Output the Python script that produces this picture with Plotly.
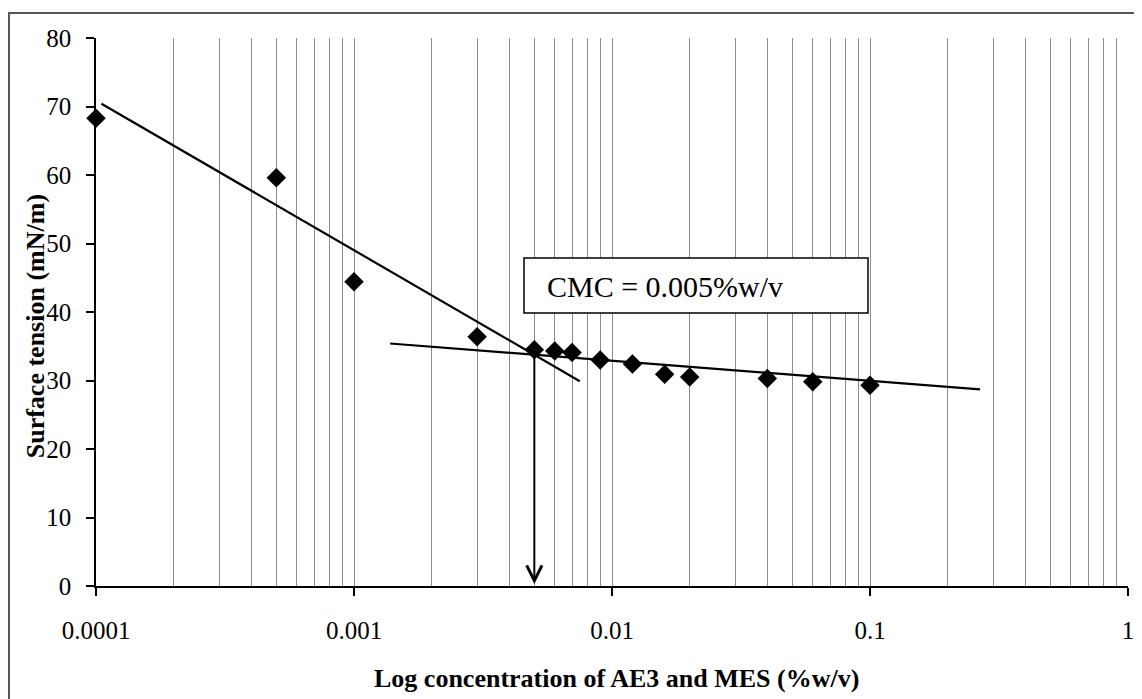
import math
import plotly.graph_objects as go

# ---- data ----
conc = [0.0001, 0.0005, 0.001, 0.003, 0.005, 0.006, 0.007, 0.009, 0.012, 0.016, 0.02, 0.04, 0.06, 0.1]
tension = [68.3, 59.6, 44.4, 36.4, 34.5, 34.3, 34.1, 33.0, 32.4, 30.9, 30.5, 30.3, 29.8, 29.3]

trend1_x = [0.000105, 0.0075]
trend1_y = [70.4, 29.9]
trend2_x = [0.00138, 0.267]
trend2_y = [35.4, 28.7]

cmc = 0.005
cmc_y_top = 33.9
cmc_label = "CMC = 0.005%w/v"

x_tickvals = [0.0001, 0.001, 0.01, 0.1, 1]
x_ticktext = ["0.0001", "0.001", "0.01", "0.1", "1"]
x_minorvals = [m * d for d in [0.0001, 0.001, 0.01, 0.1] for m in range(2, 10)]
y_tickvals = [0, 10, 20, 30, 40, 50, 60, 70, 80]

x_title = "Log concentration of AE3 and MES (%w/v)"
y_title = "Surface tension (mN/m)"

SERIF = "Liberation Serif, Times New Roman, serif"

fig = go.Figure()

fig.add_trace(go.Scatter(x=trend1_x, y=trend1_y, mode="lines",
                         line=dict(color="black", width=2.2), showlegend=False,
                         cliponaxis=False))
fig.add_trace(go.Scatter(x=trend2_x, y=trend2_y, mode="lines",
                         line=dict(color="black", width=2.2), showlegend=False,
                         cliponaxis=False))
fig.add_trace(go.Scatter(x=conc, y=tension, mode="markers",
                         marker=dict(symbol="diamond", size=15, color="black"),
                         showlegend=False, cliponaxis=False))

# arrow to CMC
fig.add_annotation(x=math.log10(cmc), y=0.3, ax=math.log10(cmc), ay=cmc_y_top,
                   xref="x", yref="y", axref="x", ayref="y", text="",
                   showarrow=True, arrowhead=5, arrowsize=1.5, arrowwidth=2,
                   arrowcolor="black", standoff=0, startstandoff=0)

# CMC label box
fig.add_shape(type="rect", xref="paper", yref="paper",
              x0=(524 - 96) / 1032, x1=(868 - 96) / 1032,
              y0=(586 - 313) / 548, y1=(586 - 258) / 548,
              line=dict(color="black", width=1.5), fillcolor="white", layer="above")
fig.add_annotation(x=(545 - 96) / 1032, y=(586 - 286) / 548, xref="paper", yref="paper",
                   xanchor="left", yanchor="middle", text=cmc_label, showarrow=False,
                   font=dict(family=SERIF, size=30, color="black"))

# axis titles
fig.add_annotation(x=0.504, y=(586 - 678) / 548, xref="paper", yref="paper",
                   xanchor="center", yanchor="middle", text="<b>" + x_title + "</b>",
                   showarrow=False, font=dict(family=SERIF, size=26, color="black"))
fig.add_annotation(x=(35 - 96) / 1032, y=0.474, xref="paper", yref="paper",
                   xanchor="center", yanchor="middle", text="<b>" + y_title + "</b>",
                   textangle=-90, showarrow=False,
                   font=dict(family=SERIF, size=26, color="black"))

# outer frame
fig.add_shape(type="rect", xref="paper", yref="paper",
              x0=(9 - 96) / 1032, x1=1.05, y0=-0.3, y1=(586 - 13) / 548,
              line=dict(color="#555555", width=2), fillcolor="rgba(0,0,0,0)", layer="below")

# page body has an 8px margin, so offset the figure margins accordingly
fig.update_layout(
    width=1142, height=699,
    margin=dict(l=88, r=22, t=30, b=121),
    paper_bgcolor="white", plot_bgcolor="white",
    font=dict(family=SERIF, color="black"),
    xaxis=dict(type="log", range=[-4, 0], tickmode="array",
               tickvals=x_tickvals, ticktext=x_ticktext,
               ticks="outside", ticklen=8, tickcolor="black", tickwidth=1.5,
               showline=True, linecolor="black", linewidth=1.5,
               showgrid=True, gridcolor="#8c8c8c", gridwidth=1,
               minor=dict(tickmode="array", tickvals=x_minorvals, ticks="",
                          showgrid=True, gridcolor="#8c8c8c", gridwidth=1),
               tickfont=dict(family=SERIF, size=25, color="black"),
               ticklabelstandoff=13, zeroline=False),
    yaxis=dict(range=[0, 80], tickmode="array", tickvals=y_tickvals,
               ticks="outside", ticklen=8, tickcolor="black", tickwidth=1.5,
               showline=True, linecolor="black", linewidth=1.5,
               showgrid=False, zeroline=False,
               tickfont=dict(family=SERIF, size=25, color="black"),
               ticklabelstandoff=10),
)

fig.write_html("out.html")
